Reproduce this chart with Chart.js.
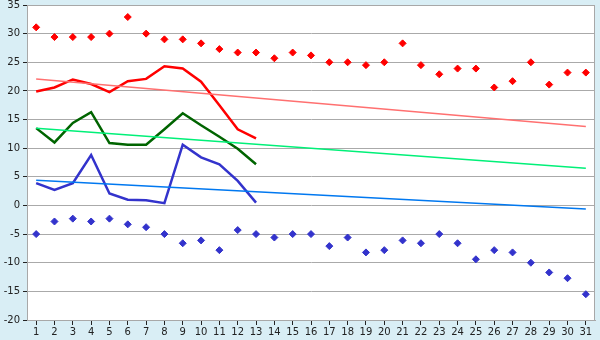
<!DOCTYPE html>
<html>
<head>
<meta charset="utf-8">
<script src="https://cdn.jsdelivr.net/npm/chart.js@4.4.1/dist/chart.umd.min.js"></script>
<style>
  html, body { margin: 0; padding: 0; background: #d9eef5; }
  #wrap { width: 600px; height: 340px; }
</style>
</head>
<body>
<div id="wrap"><canvas id="chart" width="600" height="340"></canvas></div>
<script>
const days = ['1','2','3','4','5','6','7','8','9','10','11','12','13','14','15','16','17','18','19','20','21','22','23','24','25','26','27','28','29','30','31'];
const yTicks = [-20, -15, -10, -5, 0, 5, 10, 15, 20, 25, 30, 35];

// daily extremes (diamonds)
const maxPoints = [31.1, 29.4, 29.4, 29.4, 30.0, 32.9, 30.0, 29.0, 29.0, 28.3, 27.3, 26.7, 26.7, 25.7, 26.7, 26.2, 25.0, 25.0, 24.5, 25.0, 28.3, 24.5, 22.9, 23.9, 23.9, 20.6, 21.7, 25.0, 21.1, 23.2, 23.2];
const minPoints = [-5.0, -2.8, -2.3, -2.8, -2.3, -3.3, -3.8, -5.0, -6.6, -6.1, -7.8, -4.3, -5.0, -5.6, -5.0, -5.0, -7.1, -5.6, -8.2, -7.8, -6.1, -6.6, -5.0, -6.6, -9.4, -7.8, -8.2, -10.0, -11.7, -12.7, -15.5];

// measured lines (first 13 days)
const redLine = [19.9, 20.6, 22.0, 21.2, 19.8, 21.7, 22.1, 24.3, 23.9, 21.6, 17.5, 13.3, 11.7];
const greenLine = [13.5, 11.0, 14.4, 16.3, 10.9, 10.6, 10.6, 13.3, 16.1, 14.0, 12.0, 9.9, 7.2];
const blueLine = [3.9, 2.7, 3.9, 8.8, 2.1, 1.0, 0.9, 0.4, 10.6, 8.4, 7.2, 4.3, 0.5];

// trend line end points (day 1, day 31)
const redTrend = [22.1, 13.8];
const greenTrend = [13.5, 6.5];
const blueTrend = [4.4, -0.6];

function trend(ends) {
    return [{ x: days[0], y: ends[0] }, { x: days[days.length - 1], y: ends[1] }];
}

const plotBg = {
    id: 'plotBg',
    beforeDraw(chart) {
        const c = chart.ctx, a = chart.chartArea;
        c.save();
        c.fillStyle = '#d9eef5';
        c.fillRect(0, 0, chart.width, chart.height);
        c.fillStyle = '#ffffff';
        c.fillRect(a.left, a.top, a.right - a.left, a.bottom - a.top);
        c.restore();
    },
    afterDraw(chart) {
        const c = chart.ctx, a = chart.chartArea;
        c.save();
        c.strokeStyle = '#a8a8a8';
        c.lineWidth = 1;
        c.strokeRect(a.left + 0.5, a.top + 0.5, a.right - a.left - 1, a.bottom - a.top);
        c.restore();
    }
};

const lineDs = (data, color, width) => ({
    type: 'line',
    data: data,
    borderColor: color,
    borderWidth: width,
    pointRadius: 0,
    fill: false,
    tension: 0,
    spanGaps: true,
});

const dotDs = (data, color) => ({
    type: 'line',
    data: data,
    showLine: false,
    pointStyle: 'rectRot',
    pointRadius: 3.5,
    pointBackgroundColor: color,
    pointBorderColor: color,
    pointBorderWidth: 1,
    borderColor: color,
});

new Chart(document.getElementById('chart').getContext('2d'), {
    type: 'line',
    data: {
        labels: days,
        datasets: [
            lineDs(trend(redTrend), '#ff7070', 1.5),
            lineDs(trend(greenTrend), '#00f078', 1.5),
            lineDs(trend(blueTrend), '#0078f0', 1.5),
            lineDs(redLine, '#ff0000', 2.5),
            lineDs(greenLine, '#006400', 2.5),
            lineDs(blueLine, '#3333cc', 2.5),
            dotDs(maxPoints, '#ff0000'),
            dotDs(minPoints, '#3333cc'),
        ],
    },
    options: {
        responsive: false,
        animation: false,
        layout: { padding: { top: 5, right: 5, left: 0, bottom: 0 } },
        plugins: {
            legend: { display: false },
            tooltip: { enabled: false },
        },
        scales: {
            x: {
                type: 'category',
                offset: true,
                afterFit: s => { s.height = 20; s.paddingLeft = 0; s.paddingRight = 0; },
                grid: {
                    drawOnChartArea: false,
                    tickLength: 5,
                    tickColor: '#222',
                    offset: false,
                },
                border: { color: '#a8a8a8' },
                ticks: {
                    color: '#222',
                    padding: 1,
                    maxRotation: 0,
                    autoSkip: false,
                    font: { family: 'DejaVu Sans', size: 10 },
                },
            },
            y: {
                min: yTicks[0],
                max: yTicks[yTicks.length - 1],
                afterFit: s => { s.width = 27; s.paddingTop = 0; s.paddingBottom = 0; },
                afterBuildTicks: s => { s.ticks = yTicks.map(v => ({ value: v })); },
                grid: {
                    color: '#aaaaaa',
                    tickLength: 4,
                    tickColor: '#222',
                },
                border: { color: '#a8a8a8' },
                ticks: {
                    color: '#222',
                    padding: 3,
                    font: { family: 'DejaVu Sans', size: 10 },
                },
            },
        },
    },
    plugins: [plotBg],
});
</script>
</body>
</html>
